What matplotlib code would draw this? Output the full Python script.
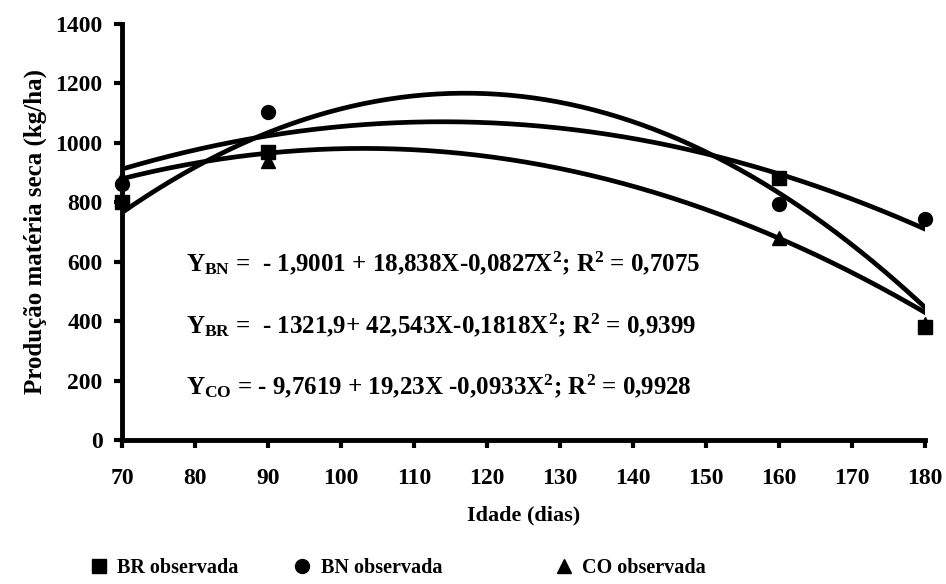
import numpy as np
import matplotlib
matplotlib.use("Agg")
import matplotlib.pyplot as plt
from matplotlib.lines import Line2D

idade = [70, 90, 160, 180]
br_obs = [800, 970, 880, 380]
bn_obs = [860, 1105, 795, 745]
co_obs = [880, 940, 680, 390]

# regression coefficients printed on the figure (a + bX + cX^2)
coef_bn = (-1.9001, 18.838, -0.0827)
coef_br = (-1321.9, 42.543, -0.1818)
coef_co = (-9.7619, 19.23, -0.0933)

eq_labels = [
    r"Y$_{\rm BN}$ =  - 1,9001 + 18,838X-0,0827X$^{\rm 2}$; R$^{\rm 2}$ = 0,7075",
    r"Y$_{\rm BR}$ =  - 1321,9+ 42,543X-0,1818X$^{\rm 2}$; R$^{\rm 2}$ = 0,9399",
    r"Y$_{\rm CO}$ = - 9,7619 + 19,23X -0,0933X$^{\rm 2}$; R$^{\rm 2}$ = 0,9928",
]
eq_y = [595, 385, 180]

legend_names = ["BR observada", "BN observada", "CO observada"]
legend_markers = ["s", "o", "^"]

plt.rcParams["font.family"] = ["Liberation Serif"]
plt.rcParams["font.weight"] = "bold"
plt.rcParams["mathtext.fontset"] = "custom"
plt.rcParams["mathtext.rm"] = "Liberation Serif:bold"
plt.rcParams["mathtext.it"] = "Liberation Serif:bold"
plt.rcParams["mathtext.bf"] = "Liberation Serif:bold"

fig = plt.figure(figsize=(9.46, 5.84), dpi=100)
ax = fig.add_axes([0.129, 0.2466, 0.849, 0.7124])

xs = np.linspace(70, 180, 200)
for a, b, c in (coef_bn, coef_br, coef_co):
    ax.plot(xs, a + b * xs + c * xs ** 2, color="black", lw=3.4, zorder=2)

ax.plot(idade, co_obs, "^", color="black", ms=10, zorder=3, clip_on=False)
ax.plot(idade, br_obs, "s", color="black", ms=10, zorder=4, clip_on=False)
ax.plot(idade, bn_obs, "o", color="black", ms=10, zorder=4, clip_on=False)

for lab, yv in zip(eq_labels, eq_y):
    ax.text(78.8, yv, lab, fontsize=18, fontweight="bold", va="center")

ax.set_xlim(70, 180)
ax.set_ylim(0, 1400)
ax.set_xticks(range(70, 181, 10))
ax.set_yticks(range(0, 1401, 200))
ax.spines["top"].set_visible(False)
ax.spines["right"].set_visible(False)
ax.spines["left"].set_linewidth(3.5)
ax.spines["bottom"].set_linewidth(3.5)
ax.tick_params(width=3, length=6, labelsize=17)
ax.tick_params(axis="x", pad=14)
ax.tick_params(axis="y", pad=8)
for lbl in ax.get_xticklabels() + ax.get_yticklabels():
    lbl.set_fontweight("bold")

ax.set_xlabel("Idade (dias)", fontsize=16, fontweight="bold", labelpad=12)
ax.set_ylabel("Produção matéria seca (kg/ha)", fontsize=18, fontweight="bold", labelpad=6)

for name, mk, xpos in zip(legend_names, legend_markers, [0.077, 0.292, 0.568]):
    h = Line2D([], [], ls="none", marker=mk, color="black", ms=10, label=name)
    fig.legend(handles=[h], loc="lower left", bbox_to_anchor=(xpos, -0.02),
               frameon=False, fontsize=14.5, handlelength=0.8, handletextpad=0.5)

fig.savefig("out.png", dpi=100)
